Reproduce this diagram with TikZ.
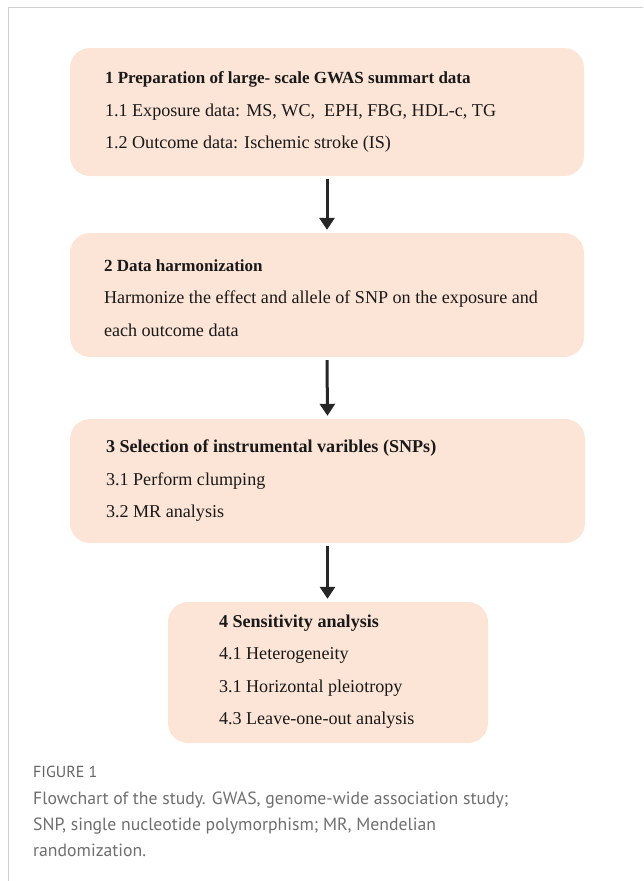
\documentclass[tikz,border=0pt]{standalone}
\usepackage{fontspec}
\setmainfont{Liberation Serif}
\newfontfamily\capfont{PT Sans}
\usepackage{tikz}
\usetikzlibrary{positioning, calc, arrows.meta}

\definecolor{pessego}{HTML}{FCE4D6}
\definecolor{moldura}{HTML}{CFCFCF}
\definecolor{legenda}{HTML}{6E6E6E}

\tikzset{
  etapa/.style={fill=pessego, draw=none, rounded corners=20pt},
  texto/.style={anchor=west, align=left, inner sep=0pt, text=black!90,
    font=\fontsize{18.1}{32.5}\selectfont},
  seta/.style={-{Triangle[width=15pt,length=12pt]}, line width=3pt, draw=black!85,
    shorten <=3pt, shorten >=3pt}
}

\begin{document}
\begin{tikzpicture}[x=1pt, y=-1pt]
\useasboundingbox (0,0) rectangle (643,881);

% --- MOLDURA ---
\draw[moldura, line width=1pt] (8,881) -- (8,7.5) -- (643,7.5);

% --- ETAPA 1 ---
\node[etapa, minimum width=514pt, minimum height=128pt] (b1) at (327,112) {};
\node[texto] (t1) at ([xshift=35pt]b1.west)
  {{\fontsize{17}{32.5}\selectfont\bfseries 1 Preparation of large- scale GWAS summart data}\\
   1.1 Exposure data: MS, WC,\ \ EPH, FBG, HDL-c, TG\\
   1.2 Outcome data: Ischemic stroke (IS)};

% --- ETAPA 2 ---
\node[etapa, minimum width=514pt, minimum height=124pt] (b2) at (327,295) {};
\node[texto] (t2) at ([xshift=34pt,yshift=-3pt]b2.west)
  {{\fontsize{17}{32.5}\selectfont\bfseries 2 Data harmonization}\\
   Harmonize the effect and allele of SNP on the exposure and\\
   each outcome data};

% --- ETAPA 3 ---
\node[etapa, minimum width=515pt, minimum height=124pt] (b3) at (327.5,481) {};
\node[texto] (t3) at ([xshift=36pt]b3.west)
  {\textbf{3 Selection of instrumental varibles (SNPs)}\\
   3.1 Perform clumping\\
   3.2 MR analysis};

% --- ETAPA 4 ---
\node[etapa, minimum width=320pt, minimum height=141pt] (b4) at (328,672.5) {};
\node[texto] (t4) at ([xshift=51pt,yshift=1pt]b4.west)
  {\textbf{4 Sensitivity analysis}\\
   4.1 Heterogeneity\\
   3.1 Horizontal pleiotropy\\
   4.3 Leave-one-out analysis};

% --- SETAS ---
\draw[seta] (b1.south) -- (b2.north);
\draw[seta] (b2.south) -- (b3.north);
\draw[seta] (b3.south) -- (b3.south |- b4.north);

% --- LEGENDA ---
\node[anchor=base west, inner sep=0pt, text=legenda!90!black, font=\capfont\fontsize{16}{18}\selectfont]
  (fig) at (33,777) {FIGURE 1};
\node[anchor=base west, inner sep=0pt, align=left, text=legenda,
  font=\capfont\fontsize{17.7}{26}\selectfont] (cap) at (33,856)
  {Flowchart of the study. GWAS, genome-wide association study;\\
   SNP, single nucleotide polymorphism; MR, Mendelian\\
   randomization.};
\end{tikzpicture}
\end{document}
